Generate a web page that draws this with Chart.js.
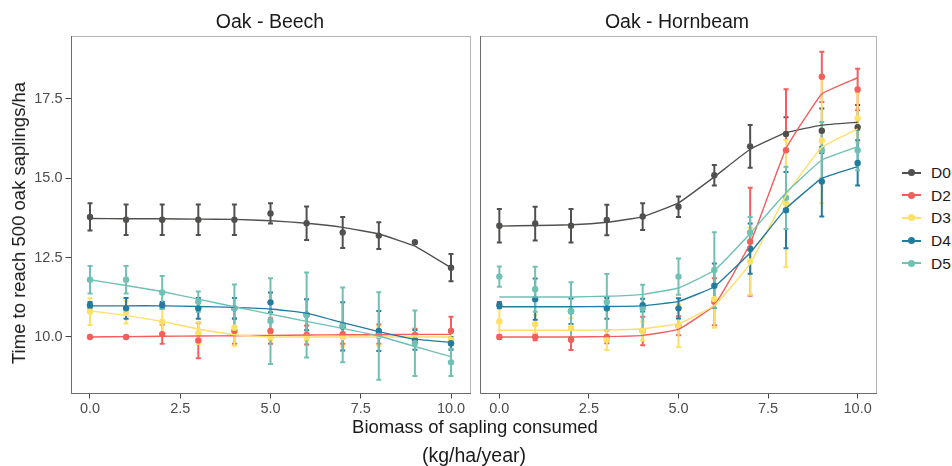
<!DOCTYPE html>
<html lang="en">
<head>
<meta charset="UTF-8">
<title>Time to reach 500 oak saplings/ha</title>
<script src="https://cdn.jsdelivr.net/npm/chart.js"></script>
<style>
  body { margin: 0; background: #fff; font-family: "Liberation Sans", Arial, sans-serif; }
  #wrap { position: relative; width: 952px; height: 466px; overflow: hidden; }
  .box { position: absolute; top: 0; }
  .txt { position: absolute; transform: translate(-50%, -50%); white-space: nowrap; color: #1a1a1a; }
  .legend { position: absolute; left: 902px; top: 162px; }
  .item { position: absolute; left: 0; width: 50px; height: 20px; }
  .item .ln { position: absolute; left: 0; top: 9.5px; width: 19px; height: 2px; }
  .item .pt { position: absolute; left: 6px; top: 7px; width: 7px; height: 7px; border-radius: 50%; }
  .item span { position: absolute; left: 29px; top: 0; font-size: 15.5px; line-height: 21px; color: #1a1a1a; }
</style>
</head>
<body>
<div id="wrap">
  <div class="box" style="left:0;width:476px;height:466px"><canvas id="beech" width="476" height="466"></canvas></div>
  <div class="box" style="left:476px;width:406px;height:466px"><canvas id="hornbeam" width="406" height="466"></canvas></div>
  <div class="txt" style="left:270px;top:21px;font-size:19.5px">Oak - Beech</div>
  <div class="txt" style="left:677px;top:21px;font-size:19.5px">Oak - Hornbeam</div>
  <div class="txt" style="left:19px;top:223px;font-size:18.5px;transform:translate(-50%,-50%) rotate(-90deg)">Time to reach 500 oak saplings/ha</div>
  <div class="txt" style="left:475px;top:427px;font-size:18.5px">Biomass of sapling consumed</div>
  <div class="txt" style="left:474px;top:455px;font-size:19.5px">(kg/ha/year)</div>
  <div class="legend" id="legend"></div>
</div>

<script>
  const xValues = [0, 1, 2, 3, 4, 5, 6, 7, 8, 9, 10];
  const xTicks = [0, 2.5, 5, 7.5, 10];
  const yTicks = [10, 12.5, 15, 17.5];
  const seriesNames = ['D0', 'D2', 'D3', 'D4', 'D5'];
  const seriesColors = ['#50514F', '#F25F5C', '#FFE066', '#247BA0', '#70C1B3'];

  // Oak - Beech : mean, error (half width), fitted curve
  const beechD0 = [13.78, 13.69, 13.69, 13.69, 13.69, 13.89, 13.58, 13.29, 13.19, 12.98, 12.18];
  const beechD0Err = [0.43, 0.48, 0.48, 0.48, 0.48, 0.32, 0.53, 0.49, 0.42, 0, 0.43];
  const beechD0Fit = [13.73, 13.72, 13.72, 13.71, 13.70, 13.66, 13.58, 13.45, 13.24, 12.86, 12.18];
  const beechD2 = [10.0, 10.0, 10.09, 9.89, 10.19, 10.19, 10.06, 10.09, 10.09, 10.06, 10.19];
  const beechD2Err = [0, 0, 0.3, 0.56, 0.4, 0.4, 0.3, 0.3, 0.3, 0.2, 0.45];
  const beechD2Fit = [10.0, 10.01, 10.02, 10.03, 10.04, 10.05, 10.06, 10.07, 10.07, 10.08, 10.08];
  const beechD3 = [10.80, 10.78, 10.48, 10.12, 10.29, 10.0, 10.0, 10.0, 10.03, 10.0, 9.91];
  const beechD3Err = [0.42, 0.36, 0.4, 0.34, 0.57, 0.1, 0.1, 0.3, 0.3, 0.1, 0.3];
  const beechD3Fit = [10.82, 10.68, 10.49, 10.25, 10.07, 10.0, 10.0, 10.0, 10.0, 10.0, 10.0];
  const beechD4 = [11.0, 10.90, 11.0, 10.90, 10.90, 11.09, 10.70, 10.33, 10.19, 9.91, 9.80];
  const beechD4Err = [0.1, 0.33, 0.1, 0.33, 0.33, 0.31, 0.49, 0.76, 0.63, 0.31, 0.2];
  const beechD4Fit = [10.98, 10.98, 10.98, 10.96, 10.93, 10.88, 10.75, 10.45, 10.17, 9.93, 9.83];
  const beechD5 = [11.80, 11.80, 11.40, 11.11, 10.90, 10.50, 10.69, 10.38, 10.03, 9.80, 9.20];
  const beechD5Err = [0.43, 0.43, 0.52, 0.32, 0.75, 1.35, 1.34, 1.18, 1.38, 1.03, 0.43];
  const beechD5Fit = [11.80, 11.62, 11.43, 11.19, 10.95, 10.72, 10.49, 10.27, 10.03, 9.70, 9.38];

  // Oak - Hornbeam
  const hornD0 = [13.50, 13.57, 13.50, 13.68, 13.79, 14.10, 15.09, 16.00, 16.39, 16.49, 16.60];
  const hornD0Err = [0.53, 0.53, 0.53, 0.48, 0.42, 0.32, 0.32, 0.67, 0.53, 0.7, 0.7];
  const hornD0Fit = [13.49, 13.51, 13.53, 13.61, 13.78, 14.22, 15.04, 15.91, 16.43, 16.67, 16.76];
  const hornD2 = [10.0, 10.0, 9.91, 10.0, 10.19, 10.35, 11.11, 13.0, 15.88, 18.19, 17.79];
  const hornD2Err = [0.05, 0.1, 0.32, 0.2, 0.45, 0.3, 0.74, 1.7, 1.92, 0.79, 0.65];
  const hornD2Fit = [10.0, 10.0, 10.0, 10.01, 10.05, 10.24, 11.0, 12.94, 15.93, 17.65, 18.16];
  const hornD3 = [10.49, 10.40, 10.29, 9.91, 10.19, 10.35, 11.19, 12.38, 14.2, 16.18, 16.89];
  const hornD3Err = [0.5, 0.3, 0.3, 0.32, 0.3, 0.67, 0.9, 1.05, 2.0, 1.97, 0.78];
  const hornD3Fit = [10.21, 10.21, 10.21, 10.22, 10.26, 10.42, 10.99, 12.31, 14.46, 15.97, 16.55];
  const hornD4 = [11.0, 11.19, 10.81, 10.90, 11.0, 10.90, 11.61, 12.78, 13.99, 14.89, 15.48];
  const hornD4Err = [0.1, 0.65, 0.4, 0.33, 0.2, 0.32, 0.7, 0.79, 1.2, 1.1, 0.71];
  const hornD4Fit = [10.95, 10.95, 10.95, 10.96, 10.98, 11.12, 11.58, 12.65, 14.04, 14.99, 15.36];
  const hornD5 = [11.90, 11.50, 10.81, 11.10, 10.90, 11.90, 12.11, 13.29, 14.38, 15.88, 15.88];
  const hornD5Err = [0.32, 0.71, 0.91, 0.88, 0.74, 0.57, 1.19, 0.49, 0.98, 0.89, 0.63];
  const hornD5Fit = [11.26, 11.26, 11.26, 11.28, 11.34, 11.54, 12.10, 13.26, 14.54, 15.57, 15.99];

  const beech = {
    means: [beechD0, beechD2, beechD3, beechD4, beechD5],
    errs: [beechD0Err, beechD2Err, beechD3Err, beechD4Err, beechD5Err],
    fits: [beechD0Fit, beechD2Fit, beechD3Fit, beechD4Fit, beechD5Fit]
  };
  const hornbeam = {
    means: [hornD0, hornD2, hornD3, hornD4, hornD5],
    errs: [hornD0Err, hornD2Err, hornD3Err, hornD4Err, hornD5Err],
    fits: [hornD0Fit, hornD2Fit, hornD3Fit, hornD4Fit, hornD5Fit]
  };

  const toXY = arr => arr.map((y, i) => ({ x: xValues[i], y: y }));

  function buildDatasets(panel) {
    const sets = [];
    seriesNames.forEach((name, i) => {
      sets.push({
        label: name + ' fit',
        data: toXY(panel.fits[i]),
        borderColor: seriesColors[i],
        borderWidth: 1.4,
        pointRadius: 0,
        tension: 0.1,
        order: 10 - i
      });
      sets.push({
        label: name,
        data: toXY(panel.means[i]),
        err: panel.errs[i],
        showLine: false,
        pointRadius: 3.2,
        pointBackgroundColor: seriesColors[i],
        pointBorderColor: seriesColors[i],
        pointBorderWidth: 0,
        order: 20 - i
      });
    });
    return sets;
  }

  // panel frame + error bars, drawn before the points and lines
  const errorBars = {
    id: 'errorBars',
    beforeDatasetsDraw(chart) {
      const ctx = chart.ctx;
      const a = chart.chartArea;
      const xs = chart.scales.x, ys = chart.scales.y;
      ctx.save();
      ctx.beginPath();
      ctx.rect(a.left, a.top, a.right - a.left, a.bottom - a.top);
      ctx.clip();
      chart.data.datasets.forEach(ds => {
        if (!ds.err) return;
        ctx.strokeStyle = ds.pointBackgroundColor;
        ctx.lineWidth = 2;
        ds.data.forEach((p, k) => {
          const e = ds.err[k];
          if (!e) return;
          const px = xs.getPixelForValue(p.x);
          const y1 = ys.getPixelForValue(p.y - e);
          const y2 = ys.getPixelForValue(p.y + e);
          ctx.beginPath();
          ctx.moveTo(px, y1); ctx.lineTo(px, y2);
          ctx.moveTo(px - 2.5, y1); ctx.lineTo(px + 2.5, y1);
          ctx.moveTo(px - 2.5, y2); ctx.lineTo(px + 2.5, y2);
          ctx.stroke();
        });
      });
      ctx.restore();
    },
    afterDraw(chart) {
      const ctx = chart.ctx;
      const a = chart.chartArea;
      ctx.save();
      ctx.lineWidth = 1;
      ctx.strokeStyle = '#b3b3b3';
      ctx.strokeRect(Math.round(a.left) + 0.5, Math.round(a.top) + 0.5,
        Math.round(a.right - a.left) - 1, Math.round(a.bottom - a.top) - 1);
      ctx.strokeStyle = '#6b6b6b';
      ctx.beginPath();
      ctx.moveTo(Math.round(a.left) + 0.5, Math.round(a.top));
      ctx.lineTo(Math.round(a.left) + 0.5, Math.round(a.bottom) - 0.5);
      ctx.lineTo(Math.round(a.right), Math.round(a.bottom) - 0.5);
      ctx.stroke();
      ctx.restore();
    }
  };

  function makeOptions(showY, pad) {
    return {
      responsive: false,
      animation: false,
      layout: { padding: pad },
      plugins: { legend: { display: false }, tooltip: { enabled: false } },
      scales: {
        x: {
          type: 'linear',
          min: -0.54,
          max: 10.54,
          afterFit: s => { s.height = 72.5; },
          afterBuildTicks: s => { s.ticks = xTicks.map(v => ({ value: v })); },
          ticks: {
            callback: v => Number(v).toFixed(1),
            color: '#4d4d4d',
            font: { family: 'Liberation Sans', size: 14.5 },
            padding: 2,
            maxRotation: 0,
            autoSkip: false
          },
          grid: { drawOnChartArea: false, tickLength: 5, color: '#444' },
          border: { display: false }
        },
        y: {
          display: showY,
          min: 8.22,
          max: 19.49,
          afterFit: s => { s.width = showY ? 70.5 : 0; },
          afterBuildTicks: s => { s.ticks = yTicks.map(v => ({ value: v })); },
          ticks: {
            callback: v => Number(v).toFixed(1),
            color: '#4d4d4d',
            font: { family: 'Liberation Sans', size: 14.5 },
            padding: 3
          },
          grid: { drawOnChartArea: false, tickLength: 5, color: '#444' },
          border: { display: false }
        }
      }
    };
  }

  new Chart(document.getElementById('beech'), {
    type: 'line',
    data: { datasets: buildDatasets(beech) },
    options: makeOptions(true, { top: 35.5, right: 5.5, bottom: 0, left: 0 }),
    plugins: [errorBars]
  });

  new Chart(document.getElementById('hornbeam'), {
    type: 'line',
    data: { datasets: buildDatasets(hornbeam) },
    options: makeOptions(false, { top: 35.5, right: 5, bottom: 0, left: 2 }),
    plugins: [errorBars]
  });

  // legend
  const legend = document.getElementById('legend');
  seriesNames.forEach((name, i) => {
    const it = document.createElement('div');
    it.className = 'item';
    it.style.top = (i * 22.7) + 'px';
    it.innerHTML = '<div class="ln" style="background:' + seriesColors[i] + '"></div>' +
      '<div class="pt" style="background:' + seriesColors[i] + '"></div><span>' + name + '</span>';
    legend.appendChild(it);
  });
</script>
</body>
</html>
